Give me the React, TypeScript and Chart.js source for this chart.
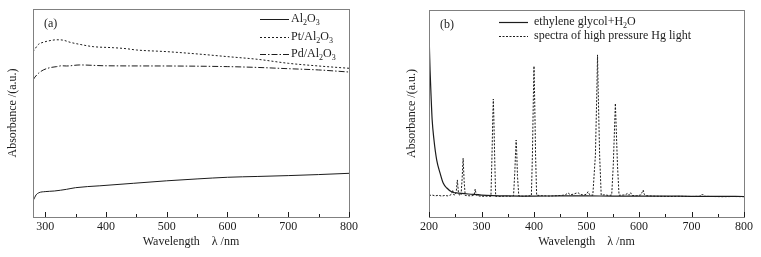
import React, { useEffect, useRef } from "react";
import { Chart, registerables } from "chart.js";

Chart.register(...registerables);

const FONT = "'Liberation Serif', 'Times New Roman', serif";
const INK = "#1c1c1c";
const FRAME = "#808080";

// ---------- Panel (a) ----------
const A_TICKS = [300, 400, 500, 600, 700, 800];
const A_MINOR = [350, 450, 550, 650, 750];

const AL2O3_NM = [280, 283, 285, 290, 300, 315, 335, 350, 390, 445, 500, 550, 600, 650, 700, 750, 800];
const AL2O3_VAL = [7.8, 9.5, 10.6, 11.7, 12.2, 12.5, 13.3, 14.1, 15.0, 16.2, 17.4, 18.3, 19.1, 19.5, 19.9, 20.4, 21.0];

const PT_NM = [280, 282, 289, 297, 308, 319, 330, 341, 357, 379, 412, 434, 450, 500, 550, 600, 650, 700, 750, 800];
const PT_VAL = [79.6, 80.3, 83.0, 84.0, 84.8, 85.2, 85.0, 84.0, 83.0, 81.9, 81.4, 80.9, 80.3, 79.5, 78.4, 77.1, 75.8, 73.9, 72.6, 71.5];

const PD_NM = [280, 283, 289, 297, 308, 319, 327, 335, 357, 400, 500, 600, 650, 700, 750, 800];
const PD_VAL = [65.9, 67.2, 69.1, 70.7, 71.8, 72.3, 72.7, 72.6, 73.1, 72.7, 72.6, 72.3, 71.9, 71.3, 70.7, 69.7];

// ---------- Panel (b) ----------
const B_TICKS = [200, 300, 400, 500, 600, 700, 800];
const B_MINOR = [250, 350, 450, 550, 650, 750];

const EG_NM = [200, 201, 202, 204, 206, 209.5, 214.7, 221, 227, 234, 243, 262, 280, 300, 350, 400, 450, 500, 550, 600, 650, 700, 750, 800];
const EG_VAL = [90.3, 80, 71.0, 58.1, 47, 37.2, 27.5, 21.3, 16.4, 14.0, 12.2, 11.4, 11.0, 10.6, 10.2, 10.1, 10.2, 10.2, 10.1, 10.1, 10.1, 10.0, 10.0, 9.9];

const HG_NM = [
  200, 206, 212, 218, 224, 230, 236, 240, 243, 245, 247, 250, 252, 254, 256, 258, 261, 263, 265, 267, 269,
  274, 280, 286, 288, 290, 296, 305, 312, 318, 320, 321.5, 322.5, 323.5, 325, 327, 335, 345, 355, 361,
  363.5, 365, 366, 367, 368.5, 371, 380, 390, 395, 397, 398.8, 400, 401.2, 403, 405, 415, 430, 445, 455,
  460, 465, 469, 475, 480, 484, 488, 495, 500, 503, 506, 512, 517, 519.8, 521, 522.2, 525, 528, 535, 542,
  548, 551, 553.8, 555, 556.2, 559, 562, 570, 575, 578, 581, 584, 587, 595, 603, 606, 608, 610, 613, 625,
  640, 660, 680, 700, 715, 719, 721, 724, 740, 760, 780, 800,
];
const HG_VAL = [
  10.4, 10.6, 10.2, 10.5, 10.1, 10.4, 10.2, 10.5, 11.0, 13.0, 10.8, 10.6, 12.5, 17.9, 12.0, 10.5, 10.6, 18, 28.4, 17, 10.4,
  10.3, 10.2, 10.5, 13.5, 10.6, 10.1, 10.0, 10.1, 10.0, 30, 48, 57.0, 48, 30, 10.0, 9.9, 10.1, 10.0, 10.2,
  22, 32, 37.2, 32, 20, 10.2, 10.0, 10.2, 10.3, 30, 58, 72.9, 58, 30, 10.5, 10.3, 10.1, 10.3, 10.5,
  10.8, 11.6, 10.8, 11.0, 11.5, 11.7, 10.9, 10.6, 11.0, 12.2, 10.8, 10.5, 30, 62, 78.3, 62, 30, 10.6, 10.7, 10.4,
  10.6, 25, 46, 54.9, 46, 25, 10.5, 10.6, 10.9, 11.4, 10.5, 11.7, 10.4, 10.3, 10.6, 12.0, 13.0, 11.0, 10.3, 10.1,
  10.0, 9.9, 10.0, 9.9, 10.0, 10.6, 11.1, 10.0, 9.9, 9.8, 9.9, 9.8,
];

const X_TITLE = "Wavelength    \u03bb /nm";
const Y_TITLE = "Absorbance /(a.u.)";

const SUBS: Record<string, string> = {
  "\u2080": "0", "\u2081": "1", "\u2082": "2", "\u2083": "3", "\u2084": "4",
  "\u2085": "5", "\u2086": "6", "\u2087": "7", "\u2088": "8", "\u2089": "9",
};

function drawRich(ctx: CanvasRenderingContext2D, text: string, x: number, y: number, size: number) {
  let cx = x;
  for (const ch of Array.from(text)) {
    if (SUBS[ch]) {
      ctx.font = `${Math.round(size * 0.7)}px ${FONT}`;
      ctx.fillText(SUBS[ch], cx, y + size * 0.3);
      cx += ctx.measureText(SUBS[ch]).width;
    } else {
      ctx.font = `${size}px ${FONT}`;
      ctx.fillText(ch, cx, y);
      cx += ctx.measureText(ch).width;
    }
  }
}

const framePlugin = {
  id: "frame",
  afterDatasetsDraw(chart: any, _args: any, opts: any) {
    const { ctx, chartArea: a, scales } = chart;
    ctx.save();
    ctx.strokeStyle = FRAME;
    ctx.lineWidth = 1;
    ctx.setLineDash([]);
    ctx.strokeRect(Math.round(a.left) + 0.5, Math.round(a.top) + 0.5, Math.round(a.right - a.left), Math.round(a.bottom - a.top));
    ctx.strokeStyle = INK;
    const tick = (v: number, len: number) => {
      const px = Math.round(scales.x.getPixelForValue(v)) + 0.5;
      ctx.beginPath();
      ctx.moveTo(px, a.bottom);
      ctx.lineTo(px, a.bottom - len);
      ctx.stroke();
    };
    opts.major.forEach((v: number) => tick(v, 5));
    opts.minor.forEach((v: number) => tick(v, 3));

    ctx.fillStyle = INK;
    ctx.textBaseline = "middle";
    ctx.textAlign = "left";
    ctx.font = `12px ${FONT}`;
    ctx.fillText(opts.label, opts.labelX, opts.labelY);

    chart.data.datasets.forEach((ds: any, i: number) => {
      const y = opts.legendY[i];
      ctx.strokeStyle = ds.borderColor;
      ctx.lineWidth = ds.borderWidth;
      ctx.setLineDash(ds.borderDash || []);
      ctx.beginPath();
      ctx.moveTo(opts.legendX0, y + 0.5);
      ctx.lineTo(opts.legendX1, y + 0.5);
      ctx.stroke();
      ctx.setLineDash([]);
      drawRich(ctx, ds.label, opts.legendTextX, y, 12);
    });
    ctx.restore();
  },
};

function pts(xs: number[], ys: number[]) {
  return xs.map((x, i) => ({ x, y: ys[i] }));
}

function makeConfig(p: any) {
  return {
    type: "line",
    data: { datasets: p.datasets },
    options: {
      animation: false,
      responsive: false,
      devicePixelRatio: 1,
      layout: { padding: { top: p.top, right: p.right, left: 0, bottom: 0 } },
      plugins: {
        legend: { display: false },
        tooltip: { enabled: false },
        frame: p.frame,
      },
      elements: { point: { radius: 0 } },
      scales: {
        x: {
          type: "linear",
          min: p.xmin,
          max: 800,
          grid: { display: false },
          border: { display: false },
          afterBuildTicks: (s: any) => {
            s.ticks = p.ticks.map((v: number) => ({ value: v }));
          },
          afterFit: (s: any) => {
            s.height = 40;
          },
          ticks: { color: INK, font: { family: FONT, size: 12 }, padding: -5, maxRotation: 0, autoSkip: false },
          title: { display: true, text: X_TITLE, color: INK, font: { family: FONT, size: 12 }, padding: { top: 0, bottom: 8 } },
        },
        y: {
          type: "linear",
          min: 0,
          max: 100,
          grid: { display: false },
          border: { display: false },
          ticks: { display: false },
          afterFit: (s: any) => {
            s.width = p.yWidth;
          },
          title: { display: true, text: Y_TITLE, color: INK, font: { family: FONT, size: 12 }, padding: { top: p.yTitlePad, bottom: 0 } },
        },
      },
    },
    plugins: [framePlugin],
  };
}

function Panel(props: { cfg: any; width: number; left: number }) {
  const ref = useRef<HTMLCanvasElement>(null);
  useEffect(() => {
    const chart = new Chart(ref.current as HTMLCanvasElement, makeConfig(props.cfg) as any);
    return () => chart.destroy();
  }, []);
  return (
    <canvas
      ref={ref}
      width={props.width}
      height={257}
      style={{ position: "absolute", left: props.left, top: 0, width: props.width, height: 257, display: "block" }}
    />
  );
}

const cfgA = {
  xmin: 280,
  ticks: A_TICKS,
  top: 9,
  right: 31,
  yWidth: 33,
  yTitlePad: 6,
  datasets: [
    { label: "Al\u2082O\u2083", data: pts(AL2O3_NM, AL2O3_VAL), borderColor: INK, borderWidth: 1, borderDash: [], cubicInterpolationMode: "monotone" },
    { label: "Pt/Al\u2082O\u2083", data: pts(PT_NM, PT_VAL), borderColor: INK, borderWidth: 1, borderDash: [2, 2], cubicInterpolationMode: "monotone" },
    { label: "Pd/Al\u2082O\u2083", data: pts(PD_NM, PD_VAL), borderColor: INK, borderWidth: 1, borderDash: [6, 2, 1.5, 2], cubicInterpolationMode: "monotone" },
  ],
  frame: {
    major: A_TICKS,
    minor: A_MINOR,
    label: "(a)",
    labelX: 44,
    labelY: 24,
    legendY: [19, 37, 54],
    legendX0: 260,
    legendX1: 289,
    legendTextX: 291,
  },
};

const cfgB = {
  xmin: 200,
  ticks: B_TICKS,
  top: 10,
  right: 17,
  yWidth: 49,
  yTitlePad: 25,
  datasets: [
    { label: "ethylene glycol+H\u2082O", data: pts(EG_NM, EG_VAL), borderColor: INK, borderWidth: 1.2, borderDash: [], cubicInterpolationMode: "monotone" },
    { label: "spectra of high pressure Hg light", data: pts(HG_NM, HG_VAL), borderColor: INK, borderWidth: 1, borderDash: [2, 1.5], tension: 0 },
  ],
  frame: {
    major: B_TICKS,
    minor: B_MINOR,
    label: "(b)",
    labelX: 60,
    labelY: 25,
    legendY: [22, 36],
    legendX0: 119,
    legendX1: 148,
    legendTextX: 154,
  },
};

export default function App() {
  return (
    <div style={{ position: "fixed", left: 0, top: 0, width: 761, height: 257, background: "#fff" }}>
      <Panel cfg={cfgA} width={380} left={0} />
      <Panel cfg={cfgB} width={381} left={380} />
    </div>
  );
}
